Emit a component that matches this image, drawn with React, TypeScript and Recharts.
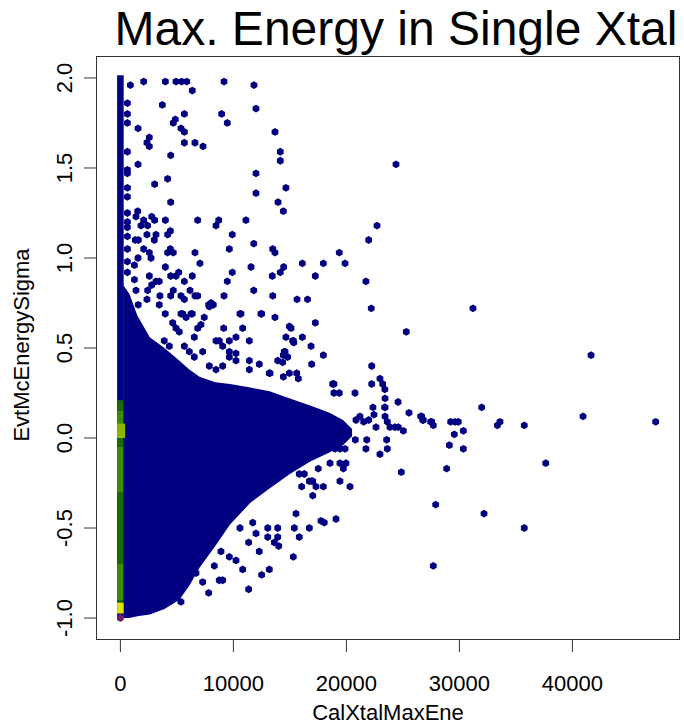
import React from 'react';
import { ComposedChart, Area, Scatter, XAxis, YAxis, ReferenceArea } from 'recharts';

const FONT = '"Liberation Sans", Arial, Helvetica, sans-serif';

// hexbin count levels -> colour
const LEVEL_COLORS = ['#000080', '#000080', '#176c00', '#3d8b00', '#8db500', '#e2e400', '#6e1f68'];

const X_TICKS = [0, 10000, 20000, 30000, 40000];
const Y_TICKS = [-1.0, -0.5, 0.0, 0.5, 1.0, 1.5, 2.0];

// dense core of the hexbin (range per x)
const coreX = [250, 800, 1500, 2600, 3900, 5200, 6100, 7000, 8400, 9700, 11500, 13200, 15000, 16800, 18500, 19700, 20500];
const coreLow = [-1.0, -1.0, -0.99, -0.98, -0.95, -0.9, -0.82, -0.72, -0.6, -0.48, -0.36, -0.28, -0.2, -0.13, -0.08, -0.04, 0.01];
const coreHigh = [0.85, 0.8, 0.68, 0.56, 0.5, 0.43, 0.38, 0.34, 0.31, 0.3, 0.28, 0.26, 0.22, 0.18, 0.14, 0.1, 0.05];

// column of cells at x = 0 (bands of equal count level)
const bandLeft = [-290, -290, -290, -290, -290, -290, -290];
const bandRight = [290, 250, 250, 250, 250, 420, 290];
const bandLow = [-1.0, -0.92, -0.9, -0.3, 0.0, 0.0, -0.975];
const bandHigh = [2.015, 0.21, -0.7, -0.05, 0.15, 0.08, -0.915];
const bandLevel = [1, 2, 3, 3, 3, 4, 5];

// the single highest-count cell
const peakX = [0];
const peakY = [-1.0];

// sparse cells
const cellX = [
  880, 2060, 3980, 4920, 5420, 5870, 6360, 9170, 11820, 3710, 5660, 4860, 4680, 8960, 12000, 9460, 1560, 5360, 5660, 2560,
  2350, 2560, 5660, 6600, 7310, 13680, 14150, 14150, 4450, 1560, 24390, 12000, 4180, 3030, 12000, 14650, 4450, 13950, 14420, 1530,
  1380, 2770, 3030, 2060, 1820, 2410, 3980, 6840, 8700, 8460, 11110, 22710, 4420, 4180, 2350, 3150, 3000, 1320, 1590, 9900,
  21970, 2060, 4420, 4180, 4680, 2560, 2710, 1560, 6600, 9640, 11800, 13480, 13680, 19370, 19880, 16100, 17960, 7040, 3980, 11560,
  14450, 14150, 9900, 5160, 4450, 4920, 2560, 6360, 5660, 13440, 17250, 9460, 21730, 3150, 2770, 2410, 3440, 1380, 4680, 4450,
  6160, 6600, 6840, 5660, 5360, 3500, 11800, 9170, 13480, 8020, 7810, 8220, 15630, 16560, 22200, 2350, 1580, 3440, 10580, 12500,
  3970, 5360, 6360,
  620, 620, 620, 620, 620, 620, 620, 620, 620, 620, 620, 620, 620, 620, 620, 1240, 1240,
  9140, 10820, 10230, 11410, 9640, 8750, 6540, 14950, 14650, 15250, 14500, 14800, 7420, 7130, 6840, 10670, 12440, 13680, 7870, 5510,
  5810, 6250, 4630, 4920, 5210, 3880, 4330, 5660, 6100, 6540, 7280, 8460, 9050, 9640, 10230, 11410, 12290, 13920, 14360, 7870,
  8460, 9050, 9640, 10230, 14950, 13180, 11410,
  31200, 25300, 41650, 22240, 18900, 22240, 22970, 23210, 23400, 20760, 18900, 19370, 23420, 24570, 22350, 23420, 25540, 31970, 26570, 26760,
  27460, 27690, 29230, 29610, 29900, 30350, 29550, 29110, 30350, 33590, 33360, 35740, 40940, 47370, 37640, 28870, 24860, 27900, 32180, 35740,
  27690,
  20850, 21200, 21530, 21970, 22440, 22620, 21800, 23420, 23620, 23860, 24300, 24590, 25040, 23560, 23620, 22970, 21730, 26660, 26800, 27550,
  23390, 18780, 18550, 18990, 19430, 19880, 18550, 19430, 19730, 20320, 19430, 17510, 17020, 17960, 16930, 16040, 15300, 16870, 17960, 16930,
  14570, 14420, 15600, 15750, 14420, 13240, 15100, 17250, 16100, 15340,
  20790, 19960, 15830, 16270, 17020, 17310, 16720, 15540, 17750, 18040, 19080, 15390, 16720, 15830, 15300, 13920, 13040, 13920, 14010, 13620,
  13040, 12290, 11350, 10580, 12000, 11710, 12500, 13180, 11350, 10820, 9640, 8900, 8310, 8750, 9050, 7810, 10230, 6690, 7280, 5360,
  6400,
];
const cellY = [
  1.96, 1.98, 1.98, 1.98, 1.98, 1.98, 1.93, 1.98, 1.96, 1.85, 1.8, 1.77, 1.75, 1.8, 1.83, 1.75, 1.72, 1.72, 1.7, 1.67,
  1.64, 1.62, 1.64, 1.64, 1.62, 1.7, 1.59, 1.54, 1.57, 1.52, 1.52, 1.47, 1.44, 1.41, 1.36, 1.39, 1.31, 1.31, 1.26, 1.26,
  1.23, 1.23, 1.21, 1.21, 1.18, 1.18, 1.21, 1.21, 1.21, 1.18, 1.21, 1.18, 1.15, 1.13, 1.13, 1.13, 1.1, 1.1, 1.1, 1.13,
  1.1, 1.05, 1.05, 1.03, 1.03, 1.03, 1.0, 1.0, 1.03, 1.05, 1.08, 1.05, 1.03, 1.03, 0.97, 0.97, 0.97, 0.97, 0.95, 0.95,
  0.95, 0.92, 0.92, 0.92, 0.9, 0.9, 0.9, 0.9, 0.87, 0.9, 0.9, 0.87, 0.87, 0.87, 0.85, 0.82, 0.87, 0.82, 0.82, 0.79,
  0.82, 0.79, 0.79, 0.77, 0.79, 0.79, 0.82, 0.79, 0.79, 0.75, 0.74, 0.74, 0.77, 0.77, 0.72, 0.77, 0.74, 0.74, 0.69, 0.69,
  0.69, 0.69, 0.69,
  1.86, 1.8, 1.75, 1.59, 1.49, 1.47, 1.39, 1.34, 1.25, 1.2, 1.17, 1.12, 1.05, 0.98, 0.92, 0.96, 0.88,
  0.61, 0.61, 0.56, 0.54, 0.54, 0.54, 0.56, 0.62, 0.56, 0.54, 0.48, 0.45, 0.67, 0.63, 0.61, 0.69, 0.69, 0.67, 0.73, 0.69,
  0.67, 0.69, 0.64, 0.61, 0.59, 0.54, 0.51, 0.51, 0.48, 0.45, 0.48, 0.54, 0.51, 0.48, 0.47, 0.43, 0.41, 0.43, 0.42, 0.4,
  0.38, 0.4, 0.45, 0.43, 0.36, 0.36, 0.38,
  0.72, 0.59, 0.46, 0.4, 0.3, 0.3, 0.33, 0.3, 0.27, 0.25, 0.25, 0.25, 0.22, 0.2, 0.17, 0.17, 0.14, 0.17, 0.12, 0.1,
  0.09, 0.07, 0.09, 0.09, 0.09, 0.04, 0.02, -0.04, -0.06, 0.09, 0.07, 0.07, 0.12, 0.09, -0.14, -0.17, -0.19, -0.37, -0.42, -0.5,
  -0.71,
  0.1, 0.12, 0.09, 0.1, 0.13, 0.06, -0.01, 0.12, 0.09, 0.06, 0.06, 0.06, 0.04, -0.01, -0.06, -0.09, -0.06, 0.12, 0.1, 0.09,
  0.17, 0.3, -0.04, -0.06, -0.06, -0.06, -0.14, -0.14, -0.17, -0.27, -0.24, -0.17, -0.32, -0.27, -0.24, -0.27, 0.54, 0.51, 0.46, 0.41,
  0.48, 0.46, 0.36, 0.33, 0.34, 0.36, 0.61, 0.64, 0.56, 0.53,
  -0.01, -0.14, -0.2, -0.2, -0.24, -0.27, -0.24, -0.42, -0.46, -0.47, -0.45, -0.5, -0.5, -0.55, -0.66, -0.5, -0.5, -0.55, -0.6, -0.58,
  -0.55, -0.63, -0.58, -0.5, -0.53, -0.47, -0.76, -0.73, -0.84, -0.73, -0.66, -0.63, -0.71, -0.79, -0.79, -0.86, -0.68, -0.75, -0.8, -0.91,
  -0.73,
];

const coreData = coreX.map((x, i) => ({ x, band: [coreLow[i], coreHigh[i]] }));
const cellData = cellX.map((x, i) => ({ x, y: cellY[i] }));
const peakData = peakX.map((x, i) => ({ x, y: peakY[i] }));

function hexShape(color: string) {
  return (props: any) => {
    const { cx, cy } = props;
    if (cx == null || cy == null) return <g />;
    const r = 3.9;
    const pts = [0, 1, 2, 3, 4, 5]
      .map(k => {
        const a = (Math.PI / 180) * (60 * k - 90);
        return `${cx + r * Math.cos(a)},${cy + r * Math.sin(a)}`;
      })
      .join(' ');
    return <polygon points={pts} fill={color} stroke="none" />;
  };
}

const XTick = (props: any) => {
  const { x, y, payload } = props;
  return (
    <text x={x} y={y + 37} textAnchor="middle" fontSize={22} fontFamily={FONT} fill="#000">
      {String(payload.value)}
    </text>
  );
};

const YTick = (props: any) => {
  const { x, y, payload } = props;
  const tx = x - 10;
  return (
    <text x={tx} y={y} transform={`rotate(-90 ${tx} ${y})`} textAnchor="middle" fontSize={22} fontFamily={FONT} fill="#000">
      {Number(payload.value).toFixed(1)}
    </text>
  );
};

export default function App() {
  return (
    <div style={{ position: 'absolute', left: 0, top: 0, width: 684, height: 727, background: '#fff' }}>
      <ComposedChart width={684} height={727} data={coreData} margin={{ top: 56, right: 4, bottom: 57, left: 56 }}>
        <XAxis
          type="number"
          dataKey="x"
          domain={[-2159, 49522]}
          allowDataOverflow
          ticks={X_TICKS}
          interval={0}
          tickSize={12}
          height={30}
          axisLine={false}
          tickLine={{ stroke: '#333', strokeWidth: 1 }}
          tick={<XTick />}
        />
        <YAxis
          type="number"
          dataKey="y"
          domain={[-1.122, 2.122]}
          allowDataOverflow
          ticks={Y_TICKS}
          interval={0}
          tickSize={12}
          width={40}
          axisLine={false}
          tickLine={{ stroke: '#333', strokeWidth: 1 }}
          tick={<YTick />}
        />
        <Area
          type="linear"
          dataKey="band"
          stroke="none"
          fill={LEVEL_COLORS[1]}
          fillOpacity={1}
          isAnimationActive={false}
          activeDot={false}
          dot={false}
        />
        {bandLow.map((lo, i) => (
          <ReferenceArea
            key={i}
            x1={bandLeft[i]}
            x2={bandRight[i]}
            y1={lo}
            y2={bandHigh[i]}
            fill={LEVEL_COLORS[bandLevel[i]]}
            fillOpacity={1}
            stroke="none"
            ifOverflow="visible"
          />
        ))}
        <Scatter data={cellData} fill={LEVEL_COLORS[1]} shape={hexShape(LEVEL_COLORS[1])} isAnimationActive={false} />
        <Scatter data={peakData} fill={LEVEL_COLORS[6]} shape={hexShape(LEVEL_COLORS[6])} isAnimationActive={false} />
      </ComposedChart>
      <svg width={684} height={727} style={{ position: 'absolute', left: 0, top: 0, pointerEvents: 'none' }}>
        <rect x={96.5} y={56.5} width={583} height={583} fill="none" stroke="#333" strokeWidth={1} />
        <text x={396} y={45} textAnchor="middle" fontSize={48} fontFamily={FONT} fill="#000">
          Max. Energy in Single Xtal
        </text>
        <text x={388} y={720} textAnchor="middle" fontSize={22} fontFamily={FONT} fill="#000">
          CalXtalMaxEne
        </text>
        <text x={29} y={345} transform="rotate(-90 29 345)" textAnchor="middle" fontSize={22} fontFamily={FONT} fill="#000">
          EvtMcEnergySigma
        </text>
      </svg>
    </div>
  );
}
